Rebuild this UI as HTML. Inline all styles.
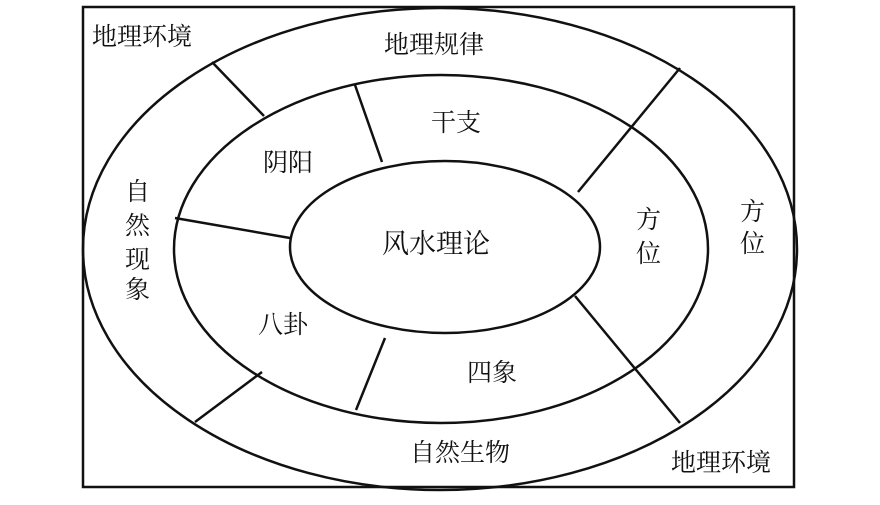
<!DOCTYPE html>
<html><head><meta charset="utf-8"><style>
html,body{margin:0;padding:0;background:#fff;}
svg text{font-family:"Liberation Serif","Noto Serif CJK SC",serif;fill:#111;}
</style></head><body>
<svg width="880" height="500" viewBox="0 0 880 500" xmlns="http://www.w3.org/2000/svg">
<g fill="none" stroke="#111" stroke-width="2.5">
<rect x="83" y="7" width="711" height="480"/>
<ellipse cx="440" cy="249" rx="357" ry="241"/>
<ellipse cx="441" cy="249" rx="267" ry="174"/>
<ellipse cx="445" cy="247" rx="155" ry="86"/>
<line x1="212" y1="62" x2="264" y2="116"/>
<line x1="355" y1="85" x2="382" y2="162"/>
<line x1="175" y1="218" x2="290" y2="238"/>
<line x1="575" y1="296" x2="680" y2="423"/>
<line x1="578" y1="192" x2="680" y2="68"/>
<line x1="385" y1="338" x2="356" y2="410"/>
<line x1="262" y1="372" x2="195" y2="422"/>
</g>
<g font-size="25">
<text x="92" y="45">地理环境</text>
<text x="384" y="53">地理规律</text>
<text x="431" y="131">干支</text>
<text x="263" y="171">阴阳</text>
<text x="382" y="253" font-size="27">风水理论</text>
<text x="636" y="228">方</text>
<text x="636" y="262">位</text>
<text x="740" y="220">方</text>
<text x="740" y="252">位</text>
<text x="125" y="200">自</text>
<text x="125" y="234">然</text>
<text x="125" y="268">现</text>
<text x="125" y="298">象</text>
<text x="258" y="333">八卦</text>
<text x="467" y="381">四象</text>
<text x="410" y="461">自然生物</text>
<text x="671" y="471">地理环境</text>
</g>
</svg>
</body></html>
